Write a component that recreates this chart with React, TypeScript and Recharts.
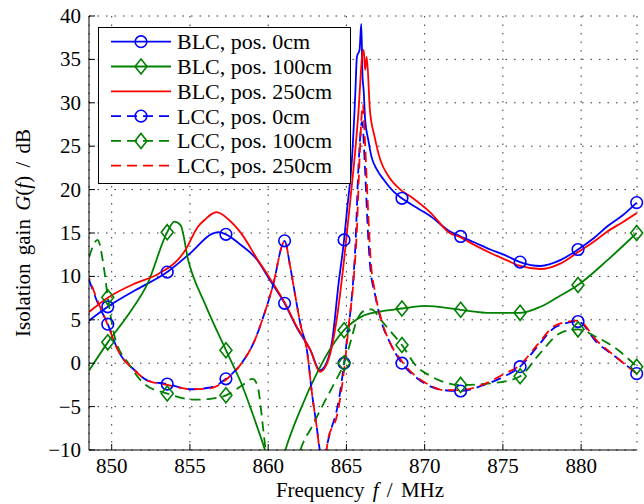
import React from 'react';
import { LineChart, Line, XAxis, YAxis, CartesianGrid, Legend } from 'recharts';

const FONT = '"Liberation Serif", "Times New Roman", serif';

const xTicks = [850, 855, 860, 865, 870, 875, 880];
const yTicks = [-10, -5, 0, 5, 10, 15, 20, 25, 30, 35, 40];
const markerF = [849.75, 853.55, 857.3, 861.05, 864.85, 868.55, 872.3, 876.1, 879.8, 883.55];

// BLC, pos. 0cm
const blc0F = [848.55, 849.75, 851.5, 853.55, 855.1, 856.4, 856.8, 857.3, 858.2, 859.3, 860.1, 861.05, 861.8, 862.7, 863.3, 863.6, 864.1, 864.5, 864.85, 865.03, 865.35, 865.57, 865.67, 865.84, 865.95, 866.03, 866.1, 866.2, 866.4, 866.6, 866.95, 867.4, 868.0, 868.55, 869.5, 870.4, 871.6, 872.3, 873.2, 874.2, 875.2, 876.1, 877.4, 878.7, 879.8, 880.8, 881.7, 882.7, 883.55];
const blc0G = [4.9, 6.5, 8.4, 10.5, 12.8, 14.9, 15.1, 14.85, 13.7, 11.9, 9.6, 6.9, 4.2, 1.5, -0.8, -0.4, 2.7, 9.2, 14.2, 17.5, 23.4, 31.1, 35.3, 36.1, 39.1, 33.0, 31.5, 28.0, 25.7, 23.8, 22.3, 21.1, 19.8, 19.0, 17.9, 16.9, 15.2, 14.6, 13.9, 13.1, 12.4, 11.65, 11.2, 11.9, 13.1, 14.4, 15.8, 17.1, 18.5];

// BLC, pos. 100cm
const blc100F = [848.55, 849.75, 851.1, 852.3, 853.55, 854.0, 854.4, 854.9, 855.97, 857.3, 858.3, 859.0, 859.8, 860.5, 861.1, 862.05, 863.1, 864.2, 864.85, 866.0, 867.0, 868.55, 870.0, 872.3, 874.2, 876.1, 877.4, 878.5, 879.8, 881.7, 883.55];
const blc100G = [-0.85, 2.4, 5.7, 9.2, 15.1, 16.3, 15.9, 11.8, 6.8, 1.5, -2.4, -5.8, -10, -14, -10, -5.4, -1.2, 2.3, 3.8, 5.4, 5.9, 6.3, 6.6, 6.15, 5.8, 5.8, 6.5, 7.6, 9.0, 11.9, 15.0];

// BLC, pos. 250cm
const blc250F = [848.55, 849.8, 851.5, 853.0, 854.7, 855.5, 856.0, 856.4, 856.7, 857.5, 858.3, 859.3, 860.1, 861.05, 861.8, 862.7, 863.3, 863.85, 864.4, 864.85, 865.25, 865.57, 865.78, 866.0, 866.1, 866.2, 866.3, 866.5, 866.8, 867.17, 867.7, 868.45, 869.1, 870.4, 871.6, 872.3, 873.2, 874.2, 875.2, 876.1, 877.4, 878.7, 879.8, 880.8, 881.7, 882.7, 883.55];
const blc250G = [5.9, 7.6, 9.2, 10.3, 13.0, 15.7, 16.6, 17.2, 17.4, 16.5, 14.9, 12.0, 9.8, 7.0, 4.3, 1.5, -1.0, 0.4, 5.3, 11.9, 18.8, 24.6, 29.2, 35.3, 36.1, 33.8, 35.3, 29.2, 26.1, 23.4, 21.5, 20.0, 19.2, 17.3, 15.0, 14.5, 13.6, 12.7, 11.9, 11.2, 10.85, 11.5, 12.8, 14.0, 15.2, 16.3, 17.3];

// LCC, pos. 0cm
const lcc0F = [848.55, 849.14, 849.75, 850.4, 851.5, 852.3, 853.55, 855.1, 856.3, 857.3, 858.3, 859.06, 859.7, 860.34, 860.9, 861.05, 861.4, 861.7, 862.05, 862.5, 862.8, 863.1, 863.3, 863.45, 863.97, 864.5, 864.85, 865.03, 865.35, 865.57, 865.78, 866.0, 866.2, 866.35, 866.5, 866.85, 867.27, 867.8, 868.55, 869.5, 870.4, 871.2, 872.3, 873.8, 875.0, 876.1, 877.2, 878.4, 879.8, 881.0, 882.3, 883.55];
const lcc0G = [9.6, 6.8, 4.5, 1.5, -0.85, -2.0, -2.4, -3.0, -2.8, -1.8, 0, 2.3, 5.4, 9.2, 13.6, 14.1, 11.2, 8.1, 4.6, 1.2, -3.5, -7.3, -10, -11, -7.9, -4.4, 0, 2.7, 7.7, 13.4, 23, 27.8, 22, 16, 11.5, 7.7, 4.6, 2.3, 0, -1.7, -2.7, -3.1, -3.2, -2.5, -1.6, -0.4, 1.9, 4.2, 4.8, 2.4, 0.6, -1.2];

// LCC, pos. 100cm
const lcc100F = [848.55, 849.1, 849.5, 849.75, 850.2, 851.1, 852.1, 853.55, 855.3, 856.3, 857.3, 858.3, 859.0, 859.3, 859.85, 860.5, 861.5, 862.06, 862.8, 863.5, 864.2, 864.85, 865.3, 865.6, 866.1, 866.6, 867.2, 867.8, 868.55, 869.4, 870.4, 872.3, 874.8, 876.1, 877.4, 878.7, 879.8, 881.0, 882.3, 883.55];
const lcc100G = [12.2, 14.2, 11.0, 7.6, 3.0, -0.1, -2.4, -3.5, -4.2, -4.1, -3.7, -2.6, -1.8, -2.5, -10, -15, -14, -10, -7.3, -4.8, -2.4, 0, 2.7, 4.6, 6.0, 6.2, 5.0, 3.7, 2.1, -0.2, -1.5, -2.5, -2.2, -1.5, 1.2, 3.5, 3.9, 3.0, 1.6, -0.4];

// LCC, pos. 250cm
const lcc250F = [848.55, 849.14, 849.75, 850.4, 851.5, 852.3, 853.55, 855.1, 856.3, 857.3, 858.3, 859.06, 859.7, 860.34, 860.9, 861.05, 861.4, 861.7, 862.05, 862.5, 862.8, 863.1, 863.3, 863.6, 863.86, 864.4, 864.85, 865.14, 865.46, 865.67, 865.85, 866.05, 866.2, 866.4, 866.55, 866.85, 867.27, 867.8, 868.55, 869.5, 870.4, 871.2, 872.3, 873.8, 875.0, 876.1, 877.2, 878.4, 879.8, 881.0, 882.3, 883.55];
const lcc250G = [9.8, 7.0, 4.4, 1.5, -0.9, -2.0, -2.5, -3.0, -2.9, -1.9, 0, 2.3, 5.4, 9.2, 13.6, 14.1, 11.2, 8.1, 4.6, 1.2, -3.5, -7.3, -10, -11, -8.5, -6.0, -0.8, 4.2, 9.6, 15.4, 24, 29.8, 25, 17, 12, 8, 4.8, 2.3, 0.2, -1.6, -2.6, -3.1, -3.1, -2.4, -1.3, -0.2, 2.1, 4.4, 4.9, 2.6, 0.6, -1.2];

const toPoints = (f: number[], g: number[]) => f.map((v, i) => ({ f: v, g: g[i] }));

const series = [
  { id: 'blc0', name: 'BLC, pos. 0cm', color: '#0000ff', dash: undefined, marker: 'circle', data: toPoints(blc0F, blc0G) },
  { id: 'blc100', name: 'BLC, pos. 100cm', color: '#008000', dash: undefined, marker: 'diamond', data: toPoints(blc100F, blc100G) },
  { id: 'blc250', name: 'BLC, pos. 250cm', color: '#ff0000', dash: undefined, marker: null, data: toPoints(blc250F, blc250G) },
  { id: 'lcc0', name: 'LCC, pos. 0cm', color: '#0000ff', dash: '10 6', marker: 'circle', data: toPoints(lcc0F, lcc0G) },
  { id: 'lcc100', name: 'LCC, pos. 100cm', color: '#008000', dash: '10 6', marker: 'diamond', data: toPoints(lcc100F, lcc100G) },
  { id: 'lcc250', name: 'LCC, pos. 250cm', color: '#ff0000', dash: '10 6', marker: null, data: toPoints(lcc250F, lcc250G) },
];

function Marker({ shape, cx, cy, color }: any) {
  if (shape === 'circle') {
    return <circle cx={cx} cy={cy} r={5.8} fill="none" stroke={color} strokeWidth={1.6} />;
  }
  return (
    <polygon
      points={`${cx},${cy - 7.5} ${cx + 6},${cy} ${cx},${cy + 7.5} ${cx - 6},${cy}`}
      fill="none"
      stroke={color}
      strokeWidth={1.6}
    />
  );
}

const fmt = (v: number) => (v < 0 ? `\u2212${-v}` : `${v}`);

const BottomTick = ({ x, y, payload }: any) => (
  <g>
    <line x1={x} y1={y} x2={x} y2={y - 6} stroke="#000" />
    <text x={x} y={y + 23} textAnchor="middle" fontSize={21} fontFamily={FONT} fill="#000">{fmt(payload.value)}</text>
  </g>
);

const LeftTick = ({ x, y, payload }: any) => (
  <g>
    <line x1={x} y1={y} x2={x + 6} y2={y} stroke="#000" />
    <text x={x - 8} y={y + 7} textAnchor="end" fontSize={21} fontFamily={FONT} fill="#000">{fmt(payload.value)}</text>
  </g>
);

const TopTick = ({ x, y }: any) => <line x1={x} y1={y} x2={x} y2={y + 6} stroke="#000" />;
const RightTick = ({ x, y }: any) => <line x1={x} y1={y} x2={x - 6} y2={y} stroke="#000" />;

const LegendBox = () => (
  <svg width={253} height={157} style={{ display: 'block' }}>
    <rect x={0.5} y={0.5} width={252} height={156} fill="#fff" stroke="#000" />
    {series.map((s, i) => {
      const cy = 14.7 + i * 24.8;
      return (
        <g key={s.id}>
          <line x1={13} x2={73} y1={cy} y2={cy} stroke={s.color} strokeWidth={1.8} strokeDasharray={s.dash} />
          {s.marker && <Marker shape={s.marker} cx={43} cy={cy} color={s.color} />}
          <text x={79} y={cy + 7.5} fontSize={22} fontFamily={FONT} fill="#000">{s.name}</text>
        </g>
      );
    })}
  </svg>
);

export default function App() {
  return (
    <div style={{ position: 'absolute', left: 0, top: 0, background: '#fff' }}>
      <LineChart width={644} height={504} margin={{ top: 16, right: 7, bottom: 0, left: 0 }}>
        <CartesianGrid stroke="#333" strokeDasharray="1.5 7" />
        <XAxis
          dataKey="f"
          type="number"
          domain={[848.55, 883.57]}
          ticks={xTicks}
          allowDataOverflow
          height={54}
          axisLine={{ stroke: '#000' }}
          tickLine={false}
          tickSize={0}
          tickMargin={0}
          tick={(p: any) => <BottomTick {...p} />}
          label={{
            content: ({ viewBox }: any) => (
              <text
                x={viewBox.x + viewBox.width / 2 - 3}
                y={viewBox.y + 47}
                textAnchor="middle"
                fontSize={21}
                fontFamily={FONT}
                wordSpacing={3}
                fill="#000"
              >
                Frequency <tspan fontStyle="italic">f</tspan> / MHz
              </text>
            ),
          }}
        />
        <XAxis
          xAxisId="top"
          orientation="top"
          dataKey="f"
          type="number"
          domain={[848.55, 883.57]}
          ticks={xTicks}
          height={0}
          axisLine={{ stroke: '#000' }}
          tickLine={false}
          tickSize={0}
          tickMargin={0}
          tick={(p: any) => <TopTick {...p} />}
        />
        <YAxis
          type="number"
          domain={[-10, 40]}
          ticks={yTicks}
          allowDataOverflow
          width={89}
          axisLine={{ stroke: '#000' }}
          tickLine={false}
          tickSize={0}
          tickMargin={0}
          tick={(p: any) => <LeftTick {...p} />}
          label={{
            content: ({ viewBox }: any) => (
              <text
                transform={`translate(30, ${viewBox.y + viewBox.height / 2}) rotate(-90)`}
                textAnchor="middle"
                fontSize={21}
                fontFamily={FONT}
                wordSpacing={3}
                fill="#000"
              >
                Isolation gain <tspan fontStyle="italic">G</tspan>(<tspan fontStyle="italic">f</tspan>) / dB
              </text>
            ),
          }}
        />
        <YAxis
          yAxisId="m"
          orientation="right"
          type="number"
          domain={[-10, 40]}
          ticks={yTicks}
          width={0}
          axisLine={{ stroke: '#000' }}
          tickLine={false}
          tickSize={0}
          tickMargin={0}
          tick={(p: any) => <RightTick {...p} />}
        />
        {series.map((s) => (
          <Line
            key={s.id}
            data={s.data}
            dataKey="g"
            name={s.name}
            type="monotone"
            stroke={s.color}
            strokeWidth={1.8}
            strokeDasharray={s.dash}
            strokeDashoffset={s.id === 'lcc250' ? 8 : 0}
            dot={false}
            activeDot={false}
            isAnimationActive={false}
          />
        ))}
        {series
          .filter((s) => s.marker)
          .map((s) => (
            <Line
              key={`${s.id}-m`}
              data={s.data.filter((p) => markerF.includes(p.f))}
              dataKey="g"
              xAxisId="top"
              yAxisId="m"
              stroke="none"
              legendType="none"
              activeDot={false}
              isAnimationActive={false}
              dot={(p: any) => (
                <Marker key={`${s.id}-${p.index}`} shape={s.marker} cx={p.cx} cy={p.cy} color={s.color} />
              )}
            />
          ))}
        <Legend
          layout="vertical"
          align="center"
          verticalAlign="middle"
          content={() => <LegendBox />}
          wrapperStyle={{ left: 98, top: 27, width: 253, height: 157 }}
        />
      </LineChart>
    </div>
  );
}
